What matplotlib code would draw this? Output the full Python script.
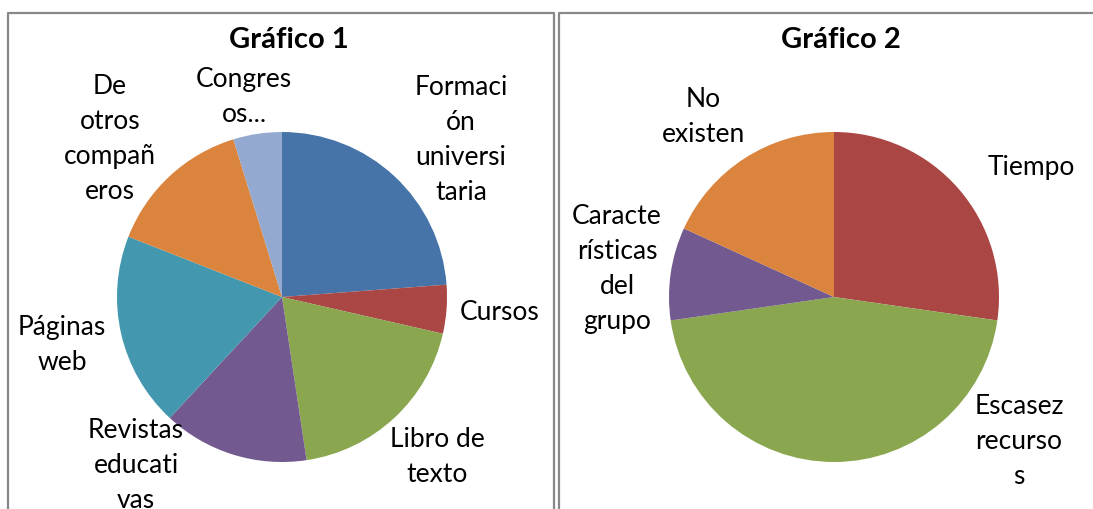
import matplotlib
matplotlib.use("Agg")
import matplotlib.pyplot as plt
from matplotlib.lines import Line2D

W, H = 1093, 510

# ---- data ----
g1_labels = ["Formaci\nón\nuniversi\ntaria", "Cursos", "Libro de\ntexto",
             "Revistas\neducati\nvas", "Páginas\nweb", "De\notros\ncompañ\neros",
             "Congres\nos..."]
g1_values = [5, 1, 4, 3, 4, 3, 1]
g1_title = "Gráfico 1"

g2_labels = ["Tiempo", "Escasez\nrecurso\ns", "Caracte\nrísticas\ndel\ngrupo", "No\nexisten"]
g2_values = [3, 5, 1, 2]
g2_title = "Gráfico 2"

# ---- styles ----
g1_colors = ["#4674A8", "#AA4644", "#8AA64F", "#72598F", "#4398AF", "#DB843D", "#93A9CF"]
g2_colors = ["#AA4644", "#8AA64F", "#72598F", "#DB843D"]
g1_label_pos = [(461, 140), (500, 313), (437, 457), (136, 466), (62, 345), (110, 139), (244, 97)]
g2_label_pos = [(1031, 167), (1019, 442), (617, 269), (703, 117)]

plt.rcParams['font.family'] = ['Lato', 'DejaVu Sans']

fig = plt.figure(figsize=(W / 100, H / 100), dpi=100)
ax = fig.add_axes([0, 0, 1, 1])
ax.set_xlim(0, W)
ax.set_ylim(0, H)
ax.set_aspect('equal')
ax.axis('off')


def Y(y):
    return H - y


def draw(values, colors, center, labels, label_pos, title, title_pos):
    ax.pie(values, colors=colors, startangle=90, counterclock=False,
           center=(center[0], Y(center[1])), radius=165,
           wedgeprops=dict(linewidth=0))
    for lab, (x, y) in zip(labels, label_pos):
        ax.text(x, Y(y), lab, ha='center', va='center', fontsize=19,
                linespacing=1.5, color='black')
    ax.text(title_pos[0], Y(title_pos[1]), title, ha='center', va='center',
            fontsize=21, fontweight='bold')


draw(g1_values, g1_colors, (282, 298), g1_labels, g1_label_pos, g1_title, (289, 40))
draw(g2_values, g2_colors, (834, 298), g2_labels, g2_label_pos, g2_title, (841, 40))

ax.set_xlim(0, W)
ax.set_ylim(0, H)

bc = "#888888"
for xs, ys in [([8, 8, 554, 554], [0, Y(14), Y(14), 0]),
               ([559, 559, W + 5], [0, Y(14), Y(14)])]:
    ax.add_line(Line2D(xs, ys, color=bc, linewidth=1.6, clip_on=False))

fig.savefig("out.png", dpi=100)
